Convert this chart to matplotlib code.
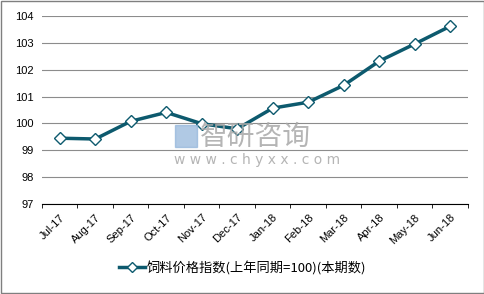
import matplotlib.pyplot as plt
from matplotlib.patches import Rectangle

plt.rcParams['font.family'] = ['Noto Sans CJK SC', 'DejaVu Sans']

months = ['Jul-17', 'Aug-17', 'Sep-17', 'Oct-17', 'Nov-17', 'Dec-17',
          'Jan-18', 'Feb-18', 'Mar-18', 'Apr-18', 'May-18', 'Jun-18']
values = [99.45, 99.42, 100.08, 100.41, 99.99, 99.8,
          100.57, 100.79, 101.42, 102.32, 102.96, 103.62]
y_ticks = [97, 98, 99, 100, 101, 102, 103, 104]
series_name = '饲料价格指数(上年同期=100)(本期数)'

W, H = 485, 294
fig = plt.figure(figsize=(W / 100, H / 100), dpi=100)
ax = fig.add_axes([42 / W, 1 - 204 / H, 426 / W, 188 / H])

x = list(range(len(months)))
ax.plot(x, values, color='#0d5a6e', lw=2.5, marker='D', ms=6.5,
        mfc='white', mec='#0d5a6e', mew=1, label=series_name, zorder=3)

ax.set_xlim(-0.5, len(months) - 0.5)
ax.set_ylim(97, 104)
ax.set_yticks(y_ticks)
ax.set_yticklabels([str(v) for v in y_ticks], fontsize=8, family='Liberation Sans')
ax.yaxis.grid(True, color='#8c8c8c', lw=0.8)
ax.tick_params(axis='y', length=0, pad=6)

ax.set_xticks(x)
ax.set_xticklabels(months, rotation=45, ha='right', rotation_mode='anchor',
                   fontsize=8, family='Liberation Sans')
ax.set_xticks([i - 0.5 for i in range(len(months) + 1)], minor=True)
ax.tick_params(axis='x', which='major', length=0, pad=6)
ax.tick_params(axis='x', which='minor', length=3, color='black', direction='out')
for s in ['top', 'right', 'left']:
    ax.spines[s].set_visible(False)
ax.spines['bottom'].set_color('black')
ax.set_axisbelow(True)

# watermark
fig.text(200 / W, 1 - 137 / H, '智研咨询', fontsize=20, color='#a8a8a8', alpha=0.85,
         ha='left', va='center', zorder=5)
fig.text(174 / W, 1 - 160 / H, 'w w w . c h y x x . c o m', fontsize=10, color='#a8a8a8',
         alpha=0.85, ha='left', va='center', family='DejaVu Sans', zorder=5)
fig.patches.append(Rectangle((175 / W, 1 - 147 / H), 22 / W, 22 / H,
                             transform=fig.transFigure, color='#8fb3d9', alpha=0.7,
                             zorder=5))

fig.legend(loc='center', bbox_to_anchor=(0.5, 1 - 268 / H), frameon=False,
           fontsize=9.5, handlelength=2, handletextpad=0.1, markerscale=0.8)

fig.patches.append(Rectangle((0.002, 0.003), 0.995, 0.994, transform=fig.transFigure,
                             fill=False, edgecolor='#7f7f7f', lw=1))

fig.savefig('out.png', dpi=100)
